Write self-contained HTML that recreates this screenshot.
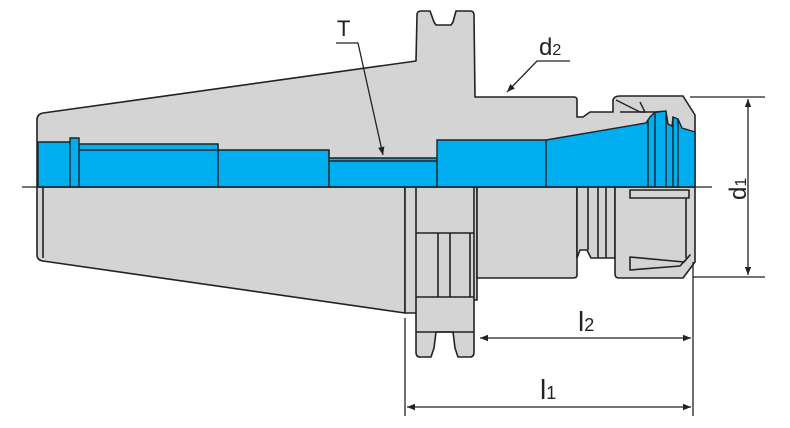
<!DOCTYPE html>
<html><head><meta charset="utf-8"><style>
html,body{margin:0;padding:0;background:#fff;width:790px;height:428px;overflow:hidden}
svg{display:block}
text{font-family:"Liberation Sans",sans-serif;fill:#222}
</style></head><body>
<svg width="790" height="428" viewBox="0 0 790 428" xmlns="http://www.w3.org/2000/svg">
<defs>
<marker id="ar" viewBox="0 0 10 10" refX="10" refY="5" markerWidth="10" markerHeight="8" orient="auto-start-reverse" markerUnits="userSpaceOnUse"><path d="M0,1 L10,5 L0,9 Z" fill="#222"/></marker>
</defs>
<g stroke="#222" stroke-width="1.6" fill="#d4d4d5" stroke-linejoin="round">
<!-- top body -->
<path d="M37,187 L37,120 Q37,114 43,113 L416,61 L417,15 Q417,11 421,11 L430,11 L434,22 L436,25 L451,25 L453,22 L456,11 L470,11 Q474,11 474,15 L475,97 L574,97 Q577,97 577,100 L577,117 L583,117 L590,112 L613,112 L613,100 Q614,96 620,96 L683,96 L695,115 L695,187 Z"/>
<!-- bottom taper -->
<path d="M37,187 L37,255 Q37,260 43,261 L405,313 L405,187 Z"/>
<line x1="43" y1="187" x2="43" y2="258"/>
<!-- flange bottom -->
<path d="M405,187 L477,187 L477,300 L474,300 L474,352 Q474,357 470,357 L458,357 L455,348 L453,332 L436,332 L434,348 L431,357 L420,357 Q416,357 416,352 L416,313 L405,313 Z"/>
<line x1="416" y1="187" x2="416" y2="313"/>
<line x1="416" y1="233" x2="474" y2="233"/>
<line x1="416" y1="297" x2="474" y2="297"/>
<line x1="416" y1="332" x2="474" y2="332"/>
<line x1="438" y1="233" x2="438" y2="297"/>
<line x1="450" y1="233" x2="450" y2="297"/>
<line x1="470" y1="233" x2="470" y2="297"/>
<line x1="474" y1="187" x2="474" y2="300"/>
<!-- body bottom -->
<path d="M477,187 L577,187 L577,275 Q577,278 573,278 L477,278 Z"/>
<path d="M577,187 L615,187 L615,258 L591,258 L587,250 L580,250 L577,258 Z"/>
<line x1="588" y1="187" x2="588" y2="250"/>
<line x1="598" y1="187" x2="598" y2="258"/>
<line x1="606" y1="187" x2="606" y2="258"/>
<!-- nut bottom -->
<path d="M615,187 L695,187 L695,262 L683,278 L619,278 Q615,278 615,274 Z"/>
<path d="M630,190 L689,190 L689,198 L630,198 Z"/>
<path d="M630,257 L630,270 L680,266 L690,255 L684,262 Z" fill="none"/>
<line x1="686" y1="198" x2="686" y2="258"/>
</g>
<!-- blue bore -->
<g stroke="#222" stroke-width="1.4" fill="#00aeef">
<path d="M38,142 L70,142 L70,138 L79,138 L79,144 L218,144 L218,150 L329,150 L329,158 L437,158 L437,140 L546,140 L646,123 L650,117 L655,112 L666,111 L668,124 L672,126 L673,117 L678,119 L682,128 L695,132 L695,187 L38,187 Z"/>
<line x1="79" y1="150" x2="218" y2="150"/>
<line x1="329" y1="161" x2="437" y2="161"/>
<line x1="546" y1="140" x2="546" y2="187"/>
<line x1="648" y1="120" x2="648" y2="187"/>
<line x1="655" y1="112" x2="655" y2="187"/>
<line x1="666" y1="112" x2="666" y2="187"/>
<line x1="673" y1="117" x2="673" y2="187"/>
<line x1="678" y1="119" x2="678" y2="187"/>
<line x1="70" y1="142" x2="70" y2="187"/>
<line x1="79" y1="144" x2="79" y2="187"/>
<line x1="218" y1="144" x2="218" y2="187"/>
<line x1="329" y1="150" x2="329" y2="187"/>
<line x1="437" y1="158" x2="437" y2="187"/>
</g>
<g stroke="#222" stroke-width="1.4" fill="none">
<path d="M616,100 L640,112 L660,112"/>
<path d="M620,112 L645,112 L640,102" />
</g>
<!-- centerline -->
<line x1="22" y1="187" x2="712" y2="187" stroke="#222" stroke-width="1.3"/>
<!-- dimension lines -->
<g stroke="#222" stroke-width="1.3" fill="none">
<line x1="690" y1="97" x2="765" y2="97"/>
<line x1="693" y1="277" x2="765" y2="277"/>
<line x1="748" y1="99" x2="748" y2="275" marker-start="url(#ar)" marker-end="url(#ar)"/>
<line x1="693" y1="262" x2="693" y2="416"/>
<line x1="405" y1="318" x2="405" y2="416"/>
<line x1="480" y1="338" x2="691" y2="338" marker-start="url(#ar)" marker-end="url(#ar)"/>
<line x1="407" y1="407" x2="691" y2="407" marker-start="url(#ar)" marker-end="url(#ar)"/>
<polyline points="336,43 358,43 383,155" marker-end="url(#ar)"/>
<polyline points="570,61 537,61 507,92" marker-end="url(#ar)"/>
</g>
<text x="337" y="36" font-size="22">T</text>
<text x="539" y="55" font-size="24">d<tspan font-size="16">2</tspan></text>
<text x="578" y="331" font-size="28">l<tspan font-size="18">2</tspan></text>
<text x="540" y="399" font-size="28">l<tspan font-size="18">1</tspan></text>
<text transform="translate(746,200) rotate(-90)" font-size="24">d<tspan font-size="16">1</tspan></text>
</svg>
</body></html>
